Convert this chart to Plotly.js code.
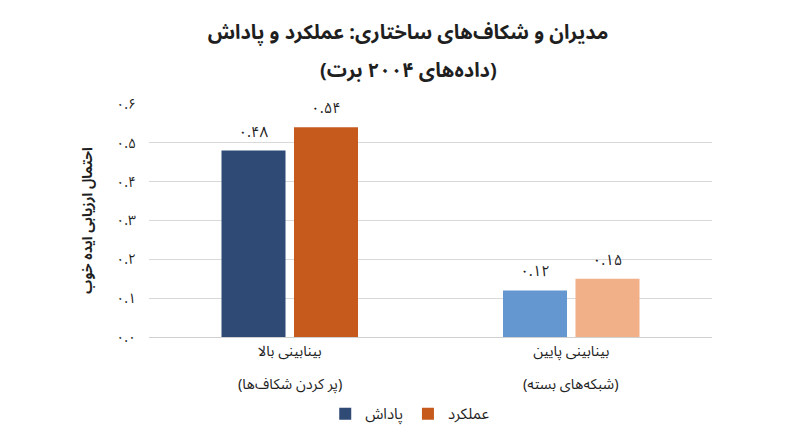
<!DOCTYPE html>
<html>
<head>
<meta charset="utf-8">
<script src="https://cdn.plot.ly/plotly-3.0.1.min.js"></script>
<style>
  html, body { margin: 0; padding: 0; background: #fff; }
  #chart { width: 800px; height: 447px; }
</style>
</head>
<body>
<div id="chart"></div>
<script>
// data
const categories = ["بینابینی بالا", "بینابینی پایین"];
const categoryNotes = ["(پر کردن شکاف‌ها)", "(شبکه‌های بسته)"];
const rewardValues = [0.48, 0.12];
const performanceValues = [0.54, 0.15];
const rewardLabels = ["۰.۴۸", "۰.۱۲"];
const performanceLabels = ["۰.۵۴", "۰.۱۵"];
const tickValues = [0, 0.1, 0.2, 0.3, 0.4, 0.5, 0.6];
const tickLabels = ["۰.۰", "۰.۱", "۰.۲", "۰.۳", "۰.۴", "۰.۵", "۰.۶"];
const titleLine1 = "مدیران و شکاف‌های ساختاری: عملکرد و پاداش";
const titleLine2 = "(داده‌های ۲۰۰۴ برت)";

const font = "'Noto Sans Arabic', 'Noto Naskh Arabic', 'DejaVu Sans', sans-serif";
const textColor = "#1f1f1f";

let traces = [
  {
    type: "bar",
    name: "پاداش",
    x: categories,
    y: rewardValues,
    text: rewardLabels,
    textposition: "outside",
    cliponaxis: false,
    textfont: { size: 15, color: textColor, family: font },
    marker: { color: ["#2e4a75", "#6497cf"] },
    hoverinfo: "none",
  },
  {
    type: "bar",
    name: "عملکرد",
    x: categories,
    y: performanceValues,
    text: performanceLabels,
    textposition: "outside",
    cliponaxis: false,
    textfont: { size: 15, color: textColor, family: font },
    marker: { color: ["#c55a1c", "#f2b088"] },
    hoverinfo: "none",
  },
];

// second line of each category label sits under the tick label
let annotations = categoryNotes.map((note, i) => ({
  text: note,
  xref: "x",
  yref: "paper",
  x: categories[i],
  y: (337.5 - 385) / 234,
  xanchor: "center",
  yanchor: "middle",
  showarrow: false,
  font: { size: 14.5, family: font, color: textColor },
}));

annotations.push({
  text: "<b>" + titleLine2 + "</b>",
  xref: "paper",
  yref: "paper",
  x: (408 - 149) / 563,
  y: 1 + (103.5 - 70) / 234,
  xanchor: "center",
  yanchor: "middle",
  showarrow: false,
  font: { size: 20, family: font, color: textColor },
});

let layout = {
  width: 800,
  height: 447,
  margin: { l: 149, r: 88, t: 103.5, b: 109.5 },
  paper_bgcolor: "#ffffff",
  plot_bgcolor: "#ffffff",
  font: { family: font, color: textColor },
  title: {
    text: "<b>" + titleLine1 + "</b>",
    font: { size: 20, family: font, color: textColor },
    x: 0.51,
    xanchor: "center",
    y: 1 - 32 / 447,
    yanchor: "middle",
  },
  annotations: annotations,
  barmode: "group",
  bargap: 0.485,
  bargroupgap: 0.117,
  xaxis: {
    tickfont: { size: 14.5, family: font, color: textColor },
    showline: false,
    ticks: "",
    ticklabelstandoff: 3,
  },
  yaxis: {
    range: [0, 0.6],
    tickvals: tickValues,
    ticktext: tickLabels,
    tickfont: { size: 14, family: font, color: textColor },
    gridcolor: "#d9d9d9",
    gridwidth: 1,
    zeroline: true,
    zerolinecolor: "#d0d0d0",
    zerolinewidth: 1,
    showline: false,
    ticks: "",
    ticklabelstandoff: 12,
    title: {
      text: "<b>احتمال ارزیابی ایده خوب</b>",
      font: { size: 14, family: font, color: textColor },
      standoff: 20,
    },
  },
  showlegend: true,
  legend: {
    orientation: "h",
    x: 0.464,
    xanchor: "center",
    y: -0.33,
    yanchor: "middle",
    font: { size: 15, family: font, color: textColor },
  },
};

Plotly.newPlot("chart", traces, layout, { displayModeBar: false, staticPlot: true });
</script>
</body>
</html>
